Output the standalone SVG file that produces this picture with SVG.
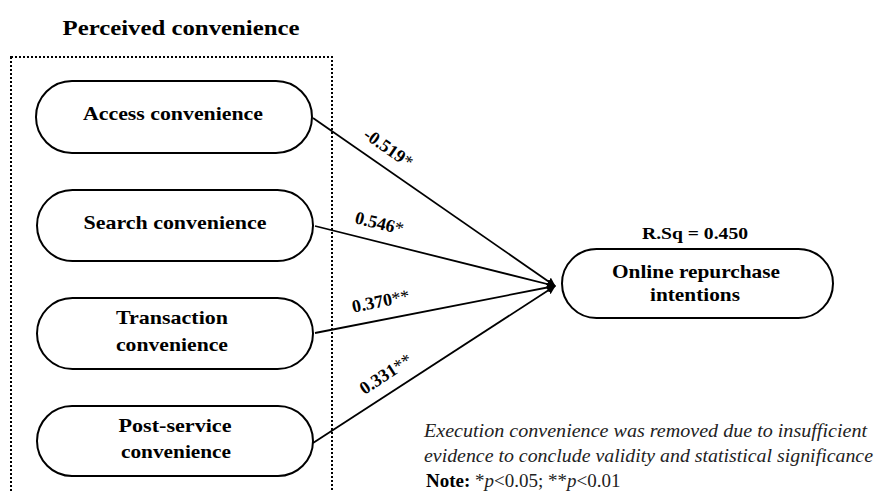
<svg xmlns="http://www.w3.org/2000/svg" width="875" height="492" viewBox="0 0 875 492">
<defs>
<style>
.node{fill:#fff;stroke:#000;stroke-width:2}
.t{font-family:"Liberation Serif","Times New Roman",serif;font-weight:bold;font-size:19px;text-anchor:middle;fill:#000}
.e{font-family:"Liberation Serif","Times New Roman",serif;font-weight:bold;font-size:18px;text-anchor:middle;fill:#000}
.ln{stroke:#000;stroke-width:1.8;fill:none;marker-end:url(#ah)}
.note{font-family:"Liberation Serif","Times New Roman",serif;font-size:19px;fill:#222}
</style>
<marker id="ah" viewBox="0 0 10 10" refX="9" refY="5" markerWidth="5" markerHeight="5" orient="auto" markerUnits="strokeWidth">
<path d="M0,0 L10,5 L0,10 z" fill="#000"/>
</marker>
</defs>
<rect width="875" height="492" fill="#fff"/>
<text x="181" y="35" class="t" style="font-size:22px" textLength="237" lengthAdjust="spacingAndGlyphs">Perceived convenience</text>
<rect x="11" y="57" width="321" height="450" fill="none" stroke="#000" stroke-width="2" stroke-dasharray="2,2"/>
<g id="connectors">
<line class="ln" x1="313" y1="118" x2="555" y2="286"/>
<line class="ln" x1="315" y1="226" x2="555" y2="286"/>
<line class="ln" x1="315" y1="333" x2="555" y2="286"/>
<line class="ln" x1="313" y1="443" x2="555" y2="286"/>
<text class="e" transform="translate(385,153) rotate(34.8)">-0.519<tspan font-weight="normal">*</tspan></text>
<text class="e" transform="translate(378,229) rotate(13.9)">0.546<tspan font-weight="normal">*</tspan></text>
<text class="e" transform="translate(382,307) rotate(-11.4)">0.370<tspan font-weight="normal">**</tspan></text>
<text class="e" transform="translate(389,379) rotate(-33.4)">0.331<tspan font-weight="normal">**</tspan></text>
</g>
<g id="access"><rect class="node" x="36" y="81" width="276" height="72" rx="36"/><text class="t" x="173" y="120" textLength="180" lengthAdjust="spacingAndGlyphs">Access convenience</text></g>
<g id="search"><rect class="node" x="37" y="190" width="276" height="71" rx="35.5"/><text class="t" x="175" y="229" textLength="183" lengthAdjust="spacingAndGlyphs">Search convenience</text></g>
<g id="transaction"><rect class="node" x="37" y="298" width="276" height="71" rx="35.5"/><text class="t" x="172" y="324" textLength="112" lengthAdjust="spacingAndGlyphs">Transaction</text><text class="t" x="172" y="351" textLength="112" lengthAdjust="spacingAndGlyphs">convenience</text></g>
<g id="postservice"><rect class="node" x="37" y="406" width="276" height="70" rx="35"/><text class="t" x="175" y="432" textLength="113" lengthAdjust="spacingAndGlyphs">Post-service</text><text class="t" x="176" y="458" textLength="110" lengthAdjust="spacingAndGlyphs">convenience</text></g>
<g id="online"><text class="t" x="695" y="239" style="font-size:17px" textLength="106" lengthAdjust="spacingAndGlyphs">R.Sq = 0.450</text><rect class="node" x="562" y="249" width="271" height="69" rx="34.5"/><text class="t" x="696" y="278" textLength="168" lengthAdjust="spacingAndGlyphs">Online repurchase</text><text class="t" x="695" y="301" textLength="90" lengthAdjust="spacingAndGlyphs">intentions</text></g>
<text class="note" x="424" y="437" font-style="italic" textLength="443" lengthAdjust="spacingAndGlyphs">Execution convenience was removed due to insufficient</text>
<text class="note" x="424" y="462" font-style="italic" textLength="449" lengthAdjust="spacingAndGlyphs">evidence to conclude validity and statistical significance</text>
<text class="note" x="426" y="487" font-size="20px"><tspan font-weight="bold" fill="#000">Note:</tspan> *<tspan font-style="italic">p</tspan>&lt;0.05; **<tspan font-style="italic">p</tspan>&lt;0.01</text>
</svg>
